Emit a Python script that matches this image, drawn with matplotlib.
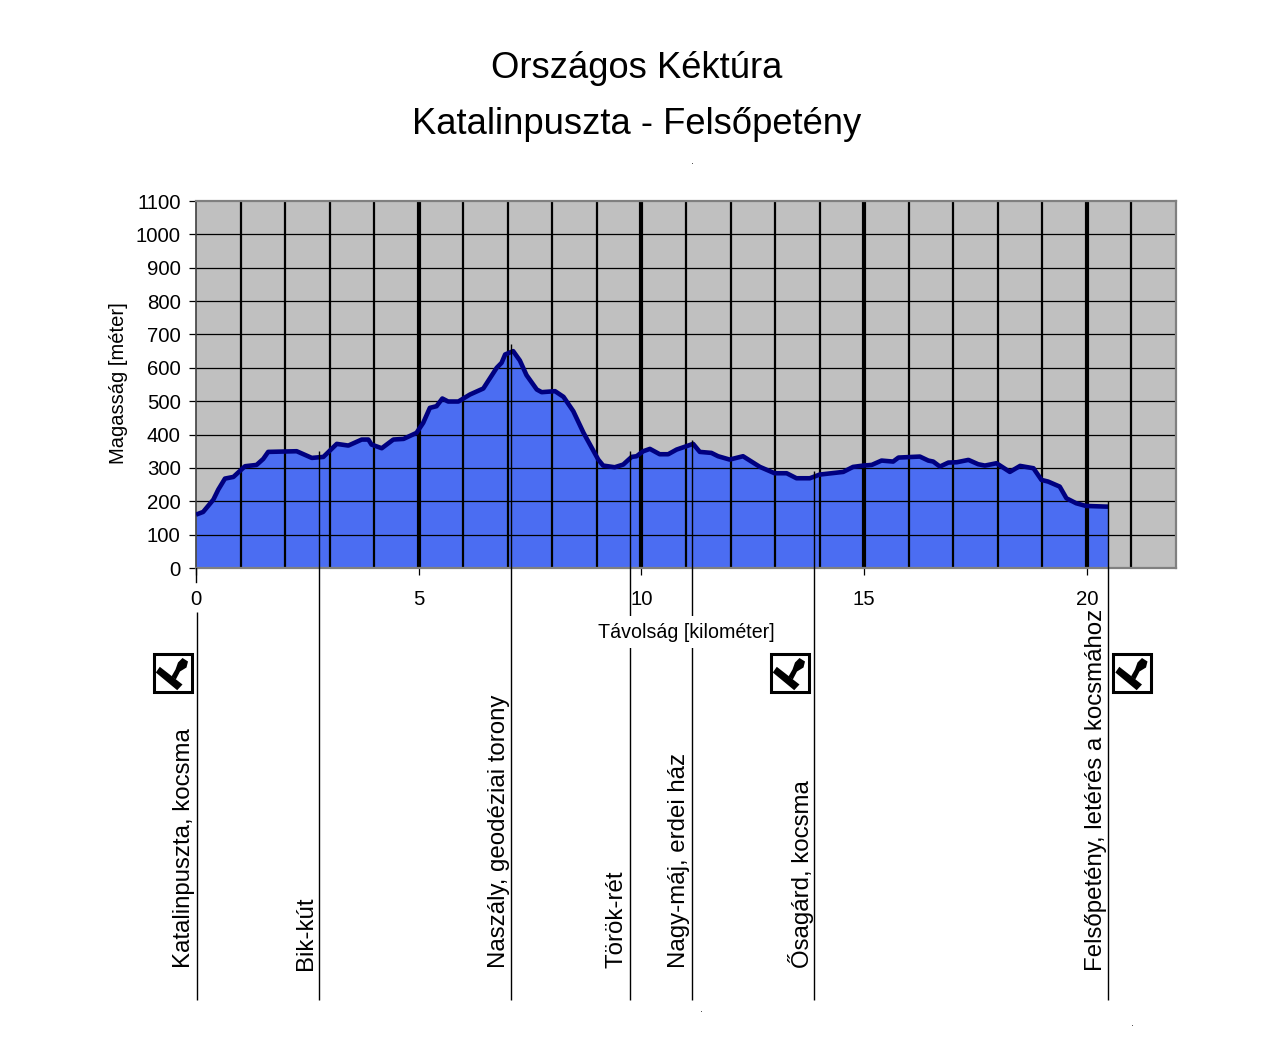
import matplotlib
matplotlib.use('Agg')
import matplotlib.pyplot as plt
from matplotlib.patches import Polygon, Rectangle
from matplotlib.transforms import blended_transform_factory, Affine2D

plt.rcParams['font.family'] = ['Liberation Sans', 'DejaVu Sans']

# Elevation profile
km = [0, .16, .39, .5, .65, .84, 1.1, 1.36, 1.51, 1.62, 2.26, 2.6, 2.86, 3.16, 3.42, 3.72, 3.87,
      3.94, 4.17, 4.43, 4.66, 4.95, 5.1, 5.25, 5.4, 5.53, 5.66, 5.89, 6.15, 6.45, 6.75, 6.86, 6.94,
      7.12, 7.27, 7.42, 7.65, 7.76, 8.06, 8.25, 8.47, 8.7, 9.03, 9.14, 9.4, 9.59, 9.78, 9.89, 10.04,
      10.19, 10.41, 10.6, 10.79, 11.16, 11.31, 11.57, 11.72, 11.98, 12.28, 12.66, 12.99, 13.26,
      13.48, 13.78, 14.0, 14.53, 14.75, 14.98, 15.17, 15.39, 15.65, 15.77, 16.25, 16.44, 16.55,
      16.7, 16.89, 17.08, 17.34, 17.56, 17.71, 17.97, 18.27, 18.5, 18.8, 18.98, 19.13, 19.39,
      19.54, 19.76, 19.98, 20.43, 20.48]
height = [160, 168, 205, 235, 268, 273, 305, 309, 327, 348, 350, 330, 333, 372, 367, 385, 385,
          370, 359, 385, 387, 405, 435, 480, 485, 508, 499, 499, 520, 538, 600, 615, 640,
          650, 622, 578, 535, 527, 530, 513, 470, 405, 325, 307, 302, 310, 333, 335, 350,
          357, 341, 341, 355, 372, 348, 345, 335, 325, 335, 303, 284, 284,
          269, 269, 280, 288, 303, 307, 309, 322, 319, 331, 334, 322, 319,
          304, 316, 317, 324, 311, 307, 314, 288, 306, 299, 264, 259, 244,
          209, 194, 186, 184, 184]

# Waypoints: name, distance
station_names = ['Katalinpuszta, kocsma', 'Bik-kút', 'Naszály, geodéziai torony', 'Török-rét',
                 'Nagy-máj, erdei ház', 'Ősagárd, kocsma', 'Felsőpetény, letérés a kocsmához']
station_km = [0.02, 2.76, 7.07, 9.74, 11.13, 13.87, 20.47]
# pixel row where each leader line starts / label offset left of line
station_top = [612, 451, 344, 451, 440, 471, 501]
label_offset = [13, 13, 12, 13, 13, 13, 12]
label_bottom = [968, 970, 968, 968, 968, 968, 971]

ytick_vals = list(range(0, 1101, 100))
minor_km = list(range(1, 22))
major_km = [5, 10, 15, 20]

fig = plt.figure(figsize=(12.8, 10.5), dpi=100)
ax = fig.add_axes([196 / 1280, (1050 - 568) / 1050, 980 / 1280, 367 / 1050])
ax.set_facecolor('#c0c0c0')
ax.set_xlim(0, 22)
ax.set_ylim(0, 1100)

ax.fill_between(km, height, 0, color='#4b6df2', lw=0, zorder=1)
for v in ytick_vals[1:-1]:
    ax.axhline(v, color='black', lw=0.9, zorder=2)
for k in minor_km:
    ax.axvline(k, color='black', lw=3.0 if k in major_km else 1.6, zorder=2)
ax.plot(km, height, color='#000080', lw=3.3, zorder=3, solid_capstyle='butt')

ax.set_yticks(ytick_vals)
ax.set_xticks([0] + major_km)
ax.tick_params(axis='both', length=5, width=0.9, labelsize=14.7, pad=6)
ax.tick_params(axis='x', pad=11)
for name, sp in ax.spines.items():
    sp.set_color('#808080')
    sp.set_linewidth(1.6)
ax.spines['left'].set_color('#404040')
ax.spines['left'].set_linewidth(1.2)

# Overlay in pixel coords for the things below the plot
ov = fig.add_axes([0, 0, 1, 1], zorder=5)
ov.set_xlim(0, 1280)
ov.set_ylim(1050, 0)
ov.axis('off')
ov.patch.set_alpha(0)

ov.text(637, 69, 'Országos Kéktúra', fontsize=26.2, ha='center', va='center')
ov.text(637, 124, 'Katalinpuszta - Felsőpetény', fontsize=26.2, ha='center', va='center')
ov.text(118, 383, 'Magasság [méter]', fontsize=14.5, rotation=90, ha='center', va='center')

mix = blended_transform_factory(ax.transData, ov.transData)
for k, top in zip(station_km, station_top):
    ov.plot([k, k], [top, 1000], color='black', lw=1.0, transform=mix, zorder=2, solid_capstyle='butt')
ov.plot([0, 0], [568, 582], color='black', lw=1.0, transform=mix, zorder=2)

# axis title sits on a white box, hiding the leader lines behind it
ov.text(686.5, 632, 'Távolság [kilométer]', fontsize=14.15, ha='center', va='center', zorder=4,
        bbox=dict(facecolor='white', edgecolor='none', pad=5))

for name, k, off, bottom in zip(station_names, station_km, label_offset, label_bottom):
    x = mix.transform((k, 0))[0]
    ov.text(x - off, bottom, name, fontsize=17.25, rotation=90, ha='center', va='bottom', zorder=4)


def draw_stamp(x0, y0):
    # stamp icon, drawn in a 40 px box
    t = Affine2D().translate(x0, y0) + ov.transData
    ov.add_patch(Rectangle((0, 0), 38, 38, fc='white', ec='black', lw=2.2, transform=t, zorder=4))
    ov.add_patch(Polygon([(2.3, 19), (6.3, 13.3), (29, 31), (23.7, 36.7)], fc='black', ec='none',
                         transform=t, zorder=5))
    ov.add_patch(Polygon([(18, 23), (22, 16), (24.5, 9), (29, 4.5), (34.5, 8), (33, 14),
                          (26.5, 18), (22.3, 26)], fc='black', ec='none', transform=t, zorder=5))


for x0 in (153.5, 770.5, 1113):
    draw_stamp(x0, 653.5)

# stray specks in the source image
for px, py in [(692, 163), (701, 1011), (1132, 1025)]:
    ov.add_patch(Rectangle((px, py), 1, 1, fc='#555555', ec='none', zorder=4))

fig.savefig('out.png', dpi=100)
